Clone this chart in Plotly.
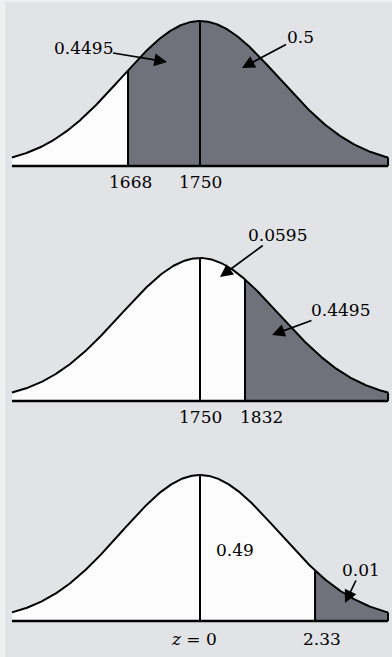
import numpy as np
import plotly.graph_objects as go

# ---- data -------------------------------------------------------------
panel_means = [1750, 1750, 0]
panel_spreads = [90, 144, 1.6]          # curve width in each panel's own units
marker_values = [[1668, 1750], [1750, 1832], [0, 2.33]]
marker_labels = [["1668", "1750"], ["1750", "1832"], ["<i>z</i> = 0", "2.33"]]
shade_from = [1668, 1832, 2.33]         # shaded area runs from here to the right tail
area_labels = [["0.4495", "0.5"], ["0.0595", "0.4495"], ["0.49", "0.01"]]

# ---- styling ----------------------------------------------------------
W, H = 392, 657
BG = "#e1e3e6"
EDGE = "#eff0f2"
SHADE = "#70717a"
INK = "#000000"
FONT = "DejaVu Serif"
FSIZE = 17

PX_SIGMA = 79          # pixels per curve sigma
CENTER_PX = 200
HALF_SPAN = 2.38       # curve drawn to +/- this many sigmas
Y_RANGE = [-0.2, 1.1]

# baseline pixel row and peak height (pixels) of each panel
bases = [166, 401, 621]
heights = [145, 143, 146]

# per-panel label placement
tick_shift = [[2, 0], [0, 17], [-6, 7]]
area_pos = [
    [dict(ax=-84, ay=-14, hx=-33, hy=62), dict(ax=58, ay=-31, hx=42, hy=68)],
    [dict(ax=57, ay=-42, hx=20, hy=277), dict(ax=68, ay=-25, hx=72, hy=335)],
    [dict(ax=None, ay=None, hx=35, hy=550), dict(ax=16, ay=-33, hx=145, hy=603)],
]
tick_row = [182, 417, 639]

fig = go.Figure()
layout_axes = {}


def bell(z):
    return np.exp(-0.5 * z * z)


for k in range(3):
    mu, s = panel_means[k], panel_spreads[k]
    xa = "x" if k == 0 else f"x{k + 1}"
    ya = "y" if k == 0 else f"y{k + 1}"
    unit = s / PX_SIGMA                    # data units per pixel

    xs = np.linspace(mu - HALF_SPAN * s, mu + HALF_SPAN * s, 400)
    ys = bell((xs - mu) / s)
    f = lambda v: float(bell((v - mu) / s))

    # white area under the curve
    fig.add_trace(go.Scatter(x=xs, y=ys, xaxis=xa, yaxis=ya, mode="lines",
                             line=dict(width=0), fill="tozeroy",
                             fillcolor="#fcfcfc", hoverinfo="skip"))
    # shaded region
    a = shade_from[k]
    sx = np.concatenate([[a], xs[xs > a]])
    sy = bell((sx - mu) / s)
    fig.add_trace(go.Scatter(x=sx, y=sy, xaxis=xa, yaxis=ya, mode="lines",
                             line=dict(width=0), fill="tozeroy",
                             fillcolor=SHADE, hoverinfo="skip"))
    # curve outline
    fig.add_trace(go.Scatter(x=xs, y=ys, xaxis=xa, yaxis=ya, mode="lines",
                             line=dict(color=INK, width=2), hoverinfo="skip"))
    # vertical markers and the right end cap
    for v in marker_values[k] + [xs[-1]]:
        fig.add_trace(go.Scatter(x=[v, v], y=[0, f(v)], xaxis=xa, yaxis=ya,
                                 mode="lines", line=dict(color=INK, width=2),
                                 hoverinfo="skip"))
    # baseline
    fig.add_trace(go.Scatter(x=[xs[0], xs[-1]], y=[0, 0], xaxis=xa, yaxis=ya,
                             mode="lines", line=dict(color=INK, width=2.5),
                             hoverinfo="skip"))

    # axis geometry
    base, hgt = bases[k], heights[k]
    top_px = base - Y_RANGE[1] * hgt
    bot_px = base - Y_RANGE[0] * hgt
    xmin = mu + (0 - CENTER_PX) * unit
    xmax = mu + (W - CENTER_PX) * unit
    ax_common = dict(showgrid=False, zeroline=False, showticklabels=False,
                     showline=False, ticks="", fixedrange=True)
    layout_axes["xaxis" if k == 0 else f"xaxis{k + 1}"] = dict(
        domain=[0, 1], range=[xmin, xmax], anchor=ya, **ax_common)
    layout_axes["yaxis" if k == 0 else f"yaxis{k + 1}"] = dict(
        domain=[1 - bot_px / H, 1 - top_px / H], range=Y_RANGE, anchor=xa,
        **ax_common)

    # tick labels under the baseline
    for v, lab, sh in zip(marker_values[k], marker_labels[k], tick_shift[k]):
        fig.add_annotation(x=v, y=(base - tick_row[k]) / hgt, xref=xa, yref=ya,
                           text=lab, showarrow=False, xshift=sh,
                           font=dict(family=FONT, size=FSIZE, color=INK),
                           xanchor="center", yanchor="middle")

    # area labels with arrows
    for lab, p in zip(area_labels[k], area_pos[k]):
        hx = mu + p["hx"] * unit
        hy = (base - p["hy"]) / hgt
        if p["ax"] is None:
            fig.add_annotation(x=hx, y=hy, xref=xa, yref=ya, text=lab,
                               showarrow=False,
                               font=dict(family=FONT, size=FSIZE, color=INK))
        else:
            fig.add_annotation(x=hx, y=hy, xref=xa, yref=ya, text=lab,
                               showarrow=True, ax=p["ax"], ay=p["ay"],
                               arrowhead=2, arrowsize=1.5, arrowwidth=1.7,
                               arrowcolor=INK, standoff=0, startstandoff=0,
                               borderpad=0,
                               font=dict(family=FONT, size=FSIZE, color=INK))

fig.update_layout(
    width=W, height=H,
    margin=dict(l=0, r=0, t=0, b=0),
    paper_bgcolor=EDGE, plot_bgcolor="rgba(0,0,0,0)",
    showlegend=False,
    shapes=[dict(type="rect", xref="paper", yref="paper", x0=5 / W, x1=1,
                 y0=0, y1=1 - 2 / H, fillcolor=BG, line=dict(width=0),
                 layer="below")],
    **layout_axes,
)

fig.write_html("out.html", config={"displayModeBar": False})
